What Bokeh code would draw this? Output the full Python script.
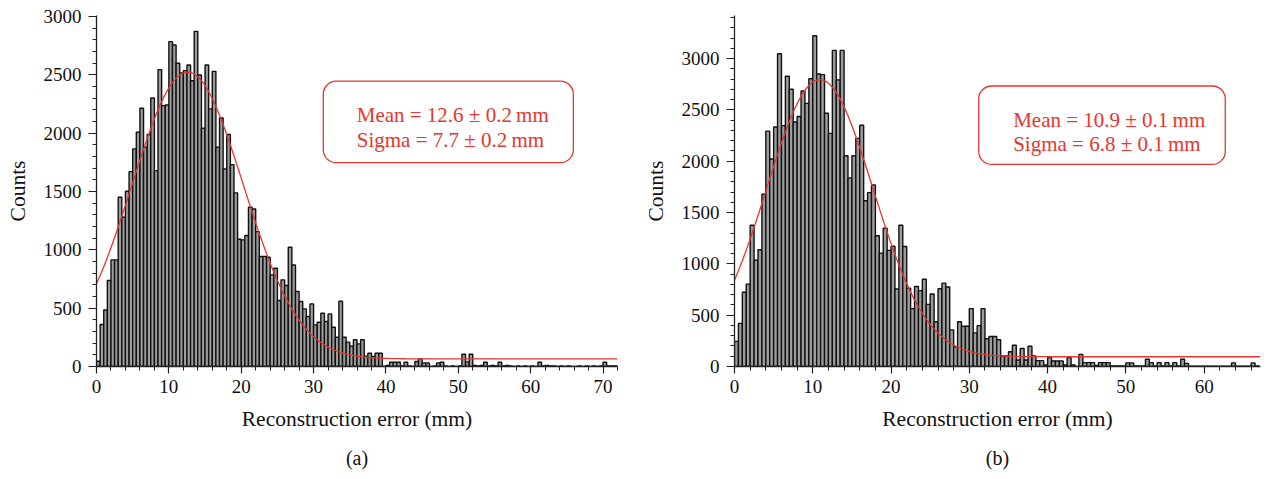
import numpy as np
from bokeh.plotting import figure
from bokeh.layouts import row
from bokeh.models import SingleIntervalTicker, BoxAnnotation, Label, Title
from bokeh.embed import file_html
from bokeh.resources import INLINE

# ---------------- data ----------------
bin_width = 0.5  # mm

# panel (a): counts per 0.5 mm bin, starting at 0 mm
counts_a = [
    45, 360, 485, 737, 914, 914, 1451, 1280, 1503, 1671,
    1866, 2009, 2214, 1880, 1990, 2303, 1680, 2546, 2237, 2243,
    2786, 2757, 2600, 2517, 2537, 2586, 2451, 2874, 2500, 2043,
    2586, 2209, 2531, 1880, 2131, 1694, 1989, 1731, 1489, 1091,
    1086, 1123, 1366, 1351, 1157, 943, 943, 937, 786, 843,
    566, 743, 694, 1023, 871, 643, 557, 494, 429, 537,
    357, 380, 457, 386, 451, 337, 251, 560, 251, 209,
    174, 229, 194, 229, 89, 114, 86, 114, 114, 0,
    8, 37, 37, 37, 5, 37, 5, 0, 43, 65,
    31, 31, 0, 5, 31, 37, 5, 0, 5, 0,
    5, 105, 40, 105, 8, 5, 8, 37, 5, 8,
    5, 37, 5, 8, 5, 0, 5, 0, 5, 0,
    5, 0, 37, 5, 8, 5, 5, 0, 5, 0,
    5, 0, 0, 5, 0, 5, 0, 5, 0, 5,
    37, 5, 5, 5,
]

# panel (b)
counts_b = [
    245, 420, 723, 803, 1376, 1035, 1137, 1678, 2293, 2022,
    2334, 3048, 2347, 2828, 2701, 2382, 2436, 2685, 2564, 2803,
    3223, 2850, 2844, 2468, 2271, 3080, 2793, 3080, 2054, 1838,
    2054, 2223, 2350, 1615, 1694, 1768, 1274, 1105, 1347, 1131,
    1172, 755, 1376, 1169, 764, 564, 780, 739, 850, 605,
    707, 436, 758, 812, 774, 357, 191, 436, 392, 392,
    564, 328, 398, 564, 271, 293, 293, 261, 102, 102,
    143, 207, 64, 175, 64, 197, 102, 57, 57, 16,
    86, 54, 54, 54, 16, 86, 16, 0, 118, 38,
    38, 38, 10, 38, 38, 38, 5, 5, 5, 5,
    35, 35, 5, 5, 5, 70, 38, 5, 38, 5,
    38, 5, 38, 5, 70, 30, 3, 3, 3, 3,
    3, 3, 3, 3, 3, 3, 3, 35, 3, 3,
    3, 3, 35, 5,
]

# Gaussian fit parameters (mean, sigma from the legend; amplitude, offset)
fit_a = dict(mean=12.6, sigma=7.7, amp=2460, offset=65)
fit_b = dict(mean=10.9, sigma=6.8, amp=2700, offset=95)

text_a = ["Mean = 12.6 \u00b1 0.2\u2009mm", "Sigma = 7.7 \u00b1 0.2\u2009mm"]
text_b = ["Mean = 10.9 \u00b1 0.1\u2009mm", "Sigma = 6.8 \u00b1 0.1\u2009mm"]

x_label = "Reconstruction error (mm)"
y_label = "Counts"

FONT = "Liberation Serif"
RED = "#e8352e"


def make_panel(counts, fit, texts, tag, xmax, ymax, border, box, txt_xy):
    p = figure(width=633, height=479, x_range=(0, xmax), y_range=(0, ymax),
               output_backend="svg", toolbar_location=None,
               min_border_left=border[0], min_border_right=border[1],
               min_border_top=border[2], min_border_bottom=border[3])
    p.grid.visible = False
    p.outline_line_color = None
    p.background_fill_color = "white"
    p.border_fill_color = "white"

    c = np.array(counts, dtype=float)
    left = np.arange(len(c)) * bin_width
    p.quad(left=left, right=left + bin_width, bottom=0, top=c,
           fill_color="#9c9c9c", line_color="#111111", line_width=1.4)

    xs = np.linspace(0, xmax, 600)
    ys = fit["offset"] + fit["amp"] * np.exp(-0.5 * ((xs - fit["mean"]) / fit["sigma"]) ** 2)
    p.line(xs, ys, line_color=RED, line_width=1.3)

    p.xaxis.ticker = SingleIntervalTicker(interval=10, num_minor_ticks=5)
    p.yaxis.ticker = SingleIntervalTicker(interval=500, num_minor_ticks=5)
    for ax in (p.xaxis[0], p.yaxis[0]):
        ax.axis_line_color = "#222222"
        ax.axis_line_width = 1.3
        ax.major_tick_line_color = "#222222"
        ax.minor_tick_line_color = "#222222"
        ax.major_tick_line_width = 1.2
        ax.minor_tick_line_width = 1.0
        ax.major_tick_in = 0
        ax.minor_tick_in = 0
        ax.major_label_text_font = FONT
        ax.major_label_text_font_size = "19px"
        ax.major_label_text_color = "#111111"
        ax.axis_label_text_font = FONT
        ax.axis_label_text_font_size = "21.5px"
        ax.axis_label_text_font_style = "normal"
        ax.axis_label_text_color = "#111111"
    p.xaxis.major_tick_out = 7
    p.xaxis.minor_tick_out = 4
    p.yaxis.major_tick_out = 8
    p.yaxis.minor_tick_out = 4
    p.xaxis.major_label_standoff = 6
    p.yaxis.major_label_standoff = 7
    p.xaxis.axis_label_standoff = 11
    p.yaxis.axis_label_standoff = 11
    p.xaxis.axis_label = x_label
    p.yaxis.axis_label = y_label

    p.add_layout(BoxAnnotation(left=box[0], right=box[1], bottom=box[2], top=box[3],
                               fill_color="white", fill_alpha=1.0, line_color=RED,
                               line_alpha=1.0, line_width=1.3, border_radius=13))
    for t, yy in zip(texts, txt_xy[1]):
        p.add_layout(Label(x=txt_xy[0], y=yy, text=t, text_font=FONT, text_font_size="21px",
                           text_color=RED, text_baseline="alphabetic", text_align="left"))
    p.add_layout(Title(text=tag, align="center", text_font=FONT, text_font_size="20px",
                       text_font_style="normal", text_color="#111111", standoff=22), "below")
    return p


pa = make_panel(counts_a, fit_a, text_a, "(a)", 72, 3010, (96, 16, 15, 112),
                (31.34, 65.9, 1748, 2447), (35.96, (2153, 1945)))
pb = make_panel(counts_b, fit_b, text_b, "(b)", 67.2, 3420, (101, 6, 10, 111),
                (31.2, 62.7, 1969, 2733), (35.6, (2399, 2170)))

layout = row(pa, pb)
open("out.html", "w").write(file_html(layout, INLINE))
